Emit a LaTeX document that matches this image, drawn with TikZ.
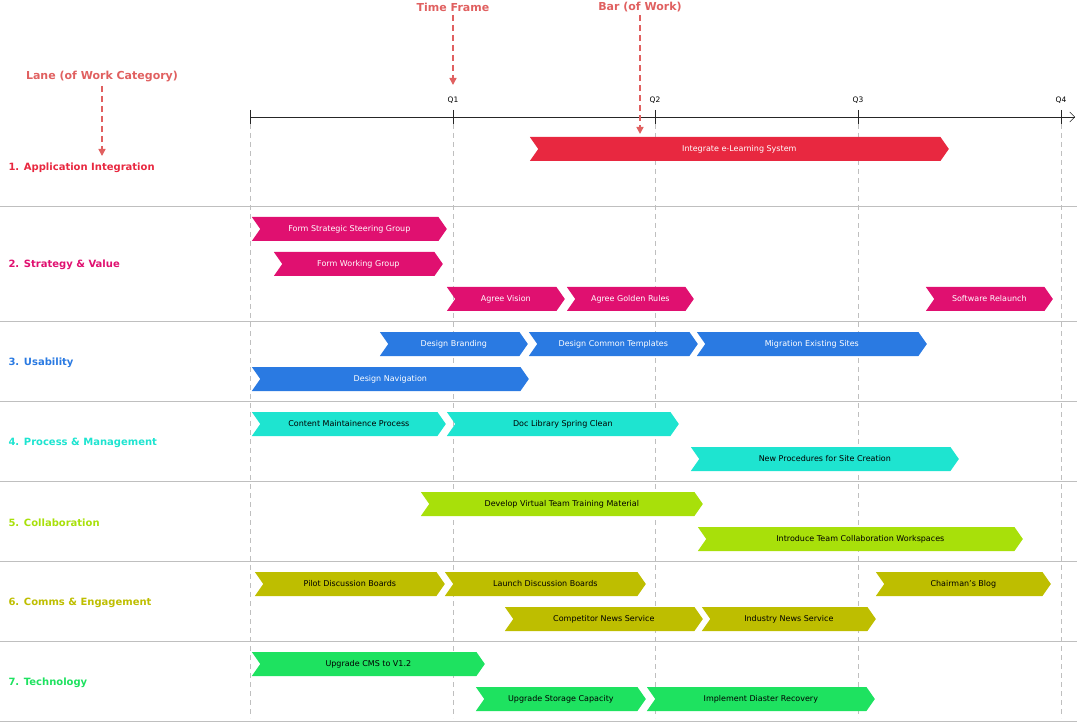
\documentclass[tikz,border=0pt]{standalone}
\usepackage{fontspec}
\setmainfont{DejaVu Sans}
\usetikzlibrary{shapes.symbols,positioning,arrows.meta}
\definecolor{laneA}{RGB}{232,40,64}
\definecolor{laneB}{RGB}{224,16,112}
\definecolor{laneC}{RGB}{42,122,226}
\definecolor{laneD}{RGB}{30,228,208}
\definecolor{laneE}{RGB}{168,224,10}
\definecolor{laneF}{RGB}{190,190,0}
\definecolor{laneG}{RGB}{30,226,96}
\definecolor{note}{RGB}{224,96,96}
\tikzset{
  workbar/.style={signal, signal to=east, signal from=west, signal pointer angle=110,
    minimum height=24pt, inner sep=0pt, anchor=west, font=\fontsize{8}{9}\selectfont},
  barA/.style={workbar, fill=laneA, text=white},
  barB/.style={workbar, fill=laneB, text=white},
  barC/.style={workbar, fill=laneC, text=white},
  barD/.style={workbar, fill=laneD, text=black},
  barE/.style={workbar, fill=laneE, text=black},
  barF/.style={workbar, fill=laneF, text=black},
  barG/.style={workbar, fill=laneG, text=black},
  lanelabel/.style={anchor=west, font=\fontsize{10}{12}\selectfont\bfseries},
  notelabel/.style={font=\fontsize{11}{13}\selectfont\bfseries, text=note},
  notearrow/.style={note, dashed, line width=1.5pt, dash pattern=on 6pt off 4pt, -{Triangle[length=7pt,width=7pt]}},
  grid/.style={gray!50, line width=0.6pt},
}
\begin{document}
\begin{tikzpicture}[x=1pt,y=-1pt]
    \useasboundingbox (0,0) rectangle (1077,722);

    % Lane separators
    \foreach \y in {206,321,401,481,561,641,721}
        \draw[grid] (0,\y) -- (1077,\y);

    % Time axis
    \coordinate (axis-start) at (250,117);
    \coordinate (axis-end) at (1075,117);
    \draw[gray!30!black, -{Straight Barb[length=5pt]}] (axis-start) -- (axis-end);
    \draw[gray!30!black] (250,110) -- (250,124);
    \draw[grid, dashed, dash pattern=on 5pt off 4pt] (250,124) -- (250,718);
    \foreach \x/\q in {453/Q1,655/Q2,858/Q3,1061/Q4} {
        \draw[gray!30!black] (\x,110) -- (\x,124);
        \draw[grid, dashed, dash pattern=on 5pt off 4pt] (\x,124) -- (\x,718);
        \node[font=\fontsize{7.5}{9}\selectfont] (tick-\q) at (\x,100) {\q};
    }

    % Lanes
    \node[lanelabel, text=laneA] (lane1) at (5,168) {1. Application Integration};
    \node[lanelabel, text=laneB] (lane2) at (5,265) {2. Strategy \& Value};
    \node[lanelabel, text=laneC] (lane3) at (5,363) {3. Usability};
    \node[lanelabel, text=laneD] (lane4) at (5,443) {4. Process \& Management};
    \node[lanelabel, text=laneE] (lane5) at (5,523) {5. Collaboration};
    \node[lanelabel, text=laneF] (lane6) at (5,603) {6. Comms \& Engagement};
    \node[lanelabel, text=laneG] (lane7) at (5,683) {7. Technology};

    % Bars
    \foreach \s/\xa/\w/\y/\t [count=\i] in {
        barA/538/419/149/Integrate e-Learning System,
        barB/260/195/229/Form Strategic Steering Group,
        barB/282/169/264/Form Working Group,
        barB/455/118/299/Agree Vision,
        barB/575/127/299/Agree Golden Rules,
        barB/934/127/299/Software Relaunch,
        barC/388/148/344/Design Branding,
        barC/537/169/344/Design Common Templates,
        barC/705/230/344/Migration Existing Sites,
        barC/260/277/379/Design Navigation,
        barD/260/194/424/Content Maintainence Process,
        barD/455/232/424/Doc Library Spring Clean,
        barD/699/268/459/New Procedures for Site Creation,
        barE/429/282/504/Develop Virtual Team Training Material,
        barE/706/325/539/Introduce Team Collaboration Workspaces,
        barF/263/190/584/Pilot Discussion Boards,
        barF/453/201/584/Launch Discussion Boards,
        barF/884/175/584/Chairman's Blog,
        barF/513/198/619/Competitor News Service,
        barF/710/174/619/Industry News Service,
        barG/260/233/664/Upgrade CMS to V1.2,
        barG/484/170/699/Upgrade Storage Capacity,
        barG/655/228/699/Implement Diaster Recovery}
        \node[\s, minimum width=\w pt] (bar-\i) at (\xa,\y) {\t};

    % Annotations
    \node[notelabel] (time-frame) at (453,7) {Time Frame};
    \coordinate (time-frame-end) at (453,85);
    \draw[notearrow] (time-frame) -- (time-frame-end);
    \node[notelabel] (bar-work) at (640,7) {Bar (of Work)};
    \coordinate (bar-work-end) at (640,134);
    \draw[notearrow] (bar-work) -- (bar-work-end);
    \node[notelabel] (lane-work) at (102,77) {Lane (of Work Category)};
    \coordinate (lane-work-end) at (102,156);
    \draw[notearrow] (lane-work) -- (lane-work-end);
\end{tikzpicture}
\end{document}
